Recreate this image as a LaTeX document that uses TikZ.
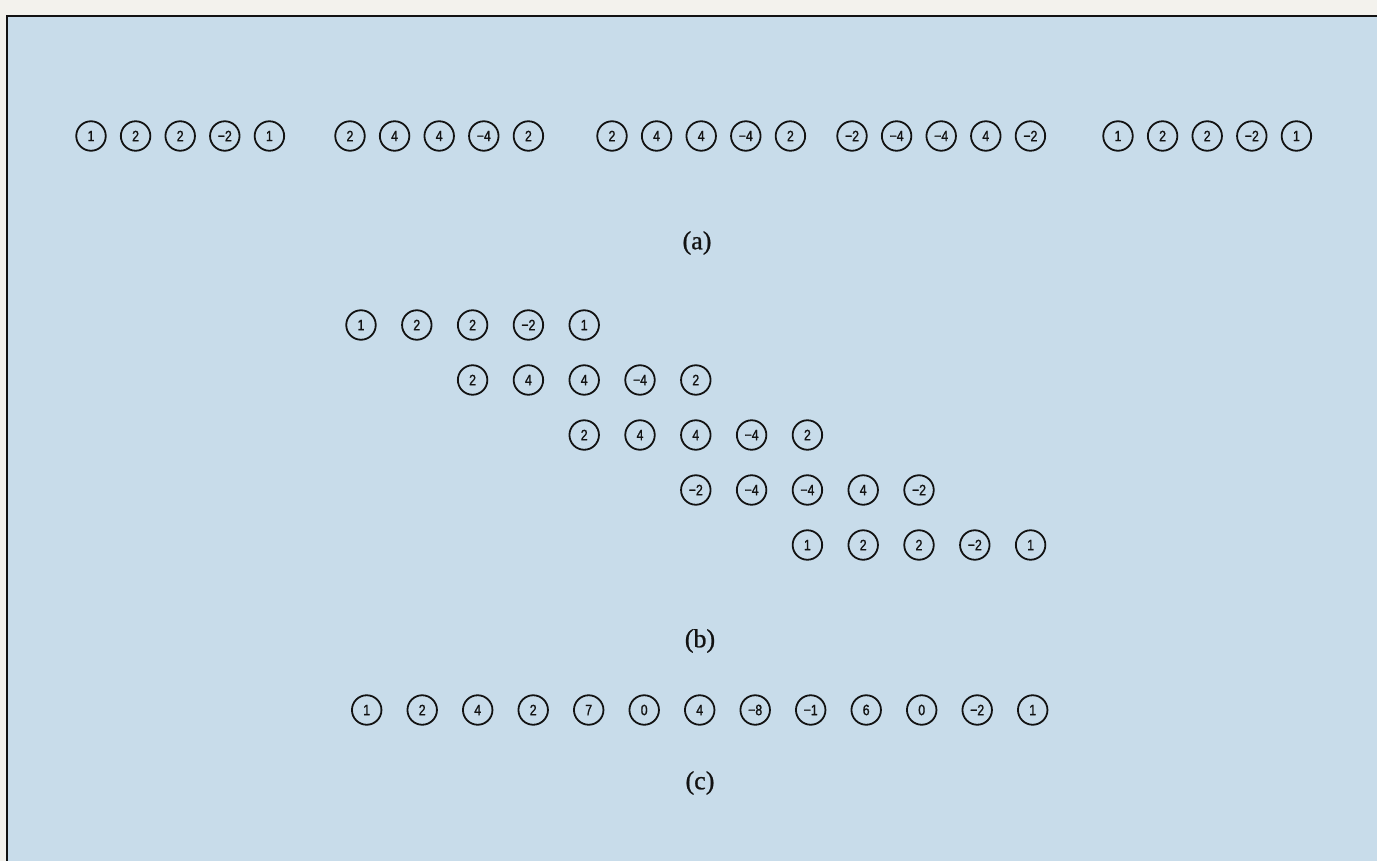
\documentclass[tikz,border=0pt]{standalone}
\usepackage{fontspec}
\setmainfont{Liberation Serif}
\newfontfamily\tapfont[FakeStretch=0.82, FakeBold=1.2]{Liberation Sans}
\newfontfamily\capfont[FakeBold=0.8]{Liberation Serif}
\definecolor{panelblue}{RGB}{200,220,234}
\definecolor{pagewhite}{RGB}{243,242,237}
\definecolor{inkblack}{RGB}{18,18,18}

\begin{document}
\begin{tikzpicture}[x=1pt, y=-1pt,
  tap/.style={circle, draw=inkblack, line width=1.8pt, minimum size=29.5pt, inner sep=0pt,
    font=\tapfont\fontsize{15}{15}\selectfont, text=inkblack},
  caption/.style={font=\capfont\fontsize{26}{26}\selectfont, text=inkblack}]

% --- Panel ---
\useasboundingbox (0,0) rectangle (1377,861);
\fill[pagewhite] (0,0) rectangle (1377,861);
\fill[panelblue] (7,16) rectangle (1377,861);
\draw[inkblack, line width=2.5pt] (7,861) -- (7,16) -- (1377,16);

% --- (a): five groups side by side ---
\foreach \g/\x/\vals in {1/91/{1,2,2,−2,1}, 2/350/{2,4,4,−4,2}, 3/612/{2,4,4,−4,2},
    4/852/{−2,−4,−4,4,−2}, 5/1118/{1,2,2,−2,1}}
  \foreach \v [count=\j from 0] in \vals
    \node[tap] (a\g-\j) at ({\x+44.6*\j}, 136) {\v};
\node[caption] (capa) at (697, 243) {(a)};

% --- (b): the same groups, shifted two places per row ---
\foreach \r/\vals in {0/{1,2,2,−2,1}, 1/{2,4,4,−4,2}, 2/{2,4,4,−4,2},
    3/{−2,−4,−4,4,−2}, 4/{1,2,2,−2,1}}
  \foreach \v [count=\j from 0] in \vals
    \node[tap] (b\r-\j) at ({361+55.8*(2*\r+\j)}, {325+55*\r}) {\v};
\node[caption] (capb) at (700, 641) {(b)};

% --- (c): column sums ---
\foreach \v [count=\j from 0] in {1,2,4,2,7,0,4,−8,−1,6,0,−2,1}
  \node[tap] (c-\j) at ({366.7+55.5*\j}, 710) {\v};
\node[caption] (capc) at (700, 783) {(c)};

\end{tikzpicture}
\end{document}
